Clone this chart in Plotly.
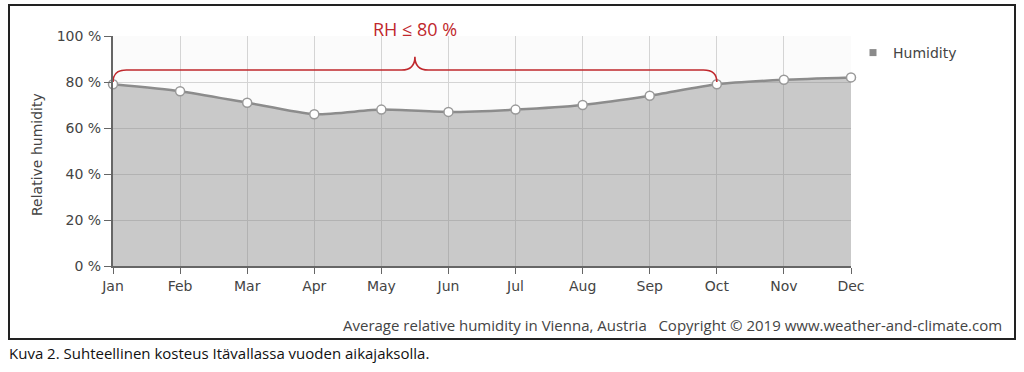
import plotly.graph_objects as go

months = ["Jan", "Feb", "Mar", "Apr", "May", "Jun", "Jul", "Aug", "Sep", "Oct", "Nov", "Dec"]
humidity = [79, 76, 71, 66, 68, 67, 68, 70, 74, 79, 81, 82]
y_ticks = [0, 20, 40, 60, 80, 100]
y_tick_labels = ["0 %", "20 %", "40 %", "60 %", "80 %", "100 %"]

# bracket annotation: months range with RH <= 80 %
bracket_start = 0      # Jan
bracket_end = 9        # Oct
bracket_level = 80
bracket_text = "RH ≤ 80 %"

title_text = "Average relative humidity in Vienna, Austria   Copyright © 2019 www.weather-and-climate.com"
caption_text = "Kuva 2. Suhteellinen kosteus Itävallassa vuoden aikajaksolla."

W, H = 1024, 372
L, R, T, B = 113, 173, 36, 106
pw, ph = W - L - R, H - T - B

def px_x(p):
    return (p - L) / pw

def px_y(p):
    return (H - B - p) / ph

xs = list(range(len(months)))

fig = go.Figure()
fig.add_trace(go.Scatter(
    x=xs, y=humidity, mode="lines+markers",
    line=dict(color="#8c8c8c", width=2.5, shape="spline", smoothing=0.6),
    marker=dict(size=9, color="white", line=dict(color="#999", width=1.5)),
    fill="tozeroy", fillcolor="rgba(135,135,135,0.43)",
    showlegend=False, cliponaxis=False, hoverinfo="skip",
))
fig.add_trace(go.Scatter(
    x=[None], y=[None], mode="markers", name="Humidity",
    marker=dict(symbol="square", size=7, color="#8a8a8a"),
))

axis_font = dict(family="DejaVu Sans", size=14, color="#444")
fig.update_xaxes(
    range=[0, len(months) - 1], tickvals=xs, ticktext=months,
    showgrid=True, gridcolor="#d4d4d4", gridwidth=1,
    showline=True, linecolor="#666", linewidth=2,
    ticks="outside", ticklen=6, tickcolor="#666", tickwidth=1,
    tickfont=axis_font, zeroline=False, fixedrange=True,
)
fig.update_yaxes(
    range=[0, 100], tickvals=y_ticks, ticktext=y_tick_labels,
    showgrid=True, gridcolor="#d4d4d4", gridwidth=1,
    showline=True, linecolor="#666", linewidth=2,
    ticks="outside", ticklen=7, tickcolor="#666", tickwidth=1,
    tickfont=axis_font, zeroline=False, fixedrange=True,
)

# bracket path in data coordinates
lvl = bracket_level
top = 85.2
tip = 91
mid = (bracket_start + bracket_end) / 2
r = 0.2
path = (
    f"M {bracket_start},{lvl} Q {bracket_start},{top} {bracket_start + r},{top} "
    f"L {mid - r},{top} Q {mid},{top} {mid},{tip} "
    f"Q {mid},{top} {mid + r},{top} "
    f"L {bracket_end - r},{top} Q {bracket_end},{top} {bracket_end},{lvl}"
)
fig.add_shape(type="path", path=path, xref="x", yref="y",
              line=dict(color="#c0282d", width=1.6), layer="above")

fig.add_annotation(x=mid, y=px_y(29), xref="x", yref="paper", text=bracket_text,
                   showarrow=False, font=dict(family="Open Sans", size=18, color="#c0282d"),
                   xanchor="center", yanchor="middle")

# outer border
fig.add_shape(type="rect", xref="paper", yref="paper",
              x0=px_x(9), x1=px_x(1015), y0=px_y(339), y1=px_y(5),
              line=dict(color="#222", width=2), fillcolor="rgba(0,0,0,0)", layer="below")

fig.add_annotation(x=px_x(1004), y=px_y(325), xref="paper", yref="paper", text=title_text,
                   showarrow=False, xanchor="right", yanchor="middle",
                   font=dict(family="Open Sans", size=15, color="#444"))
fig.add_annotation(x=px_x(7), y=px_y(353), xref="paper", yref="paper", text=caption_text,
                   showarrow=False, xanchor="left", yanchor="middle",
                   font=dict(family="Open Sans", size=15, color="#111"))
fig.add_annotation(x=px_x(37), y=px_y(155), xref="paper", yref="paper", text="Relative humidity",
                   showarrow=False, textangle=-90, xanchor="center", yanchor="middle",
                   font=dict(family="DejaVu Sans", size=14, color="#444"))

fig.update_layout(
    width=W, height=H,
    margin=dict(l=L, r=R, t=T, b=B, pad=0),
    paper_bgcolor="white", plot_bgcolor="#fbfbfb",
    legend=dict(x=px_x(853), y=px_y(37), xanchor="left", yanchor="top",
                font=dict(family="DejaVu Sans", size=14, color="#444"),
                bgcolor="rgba(0,0,0,0)", itemwidth=30),
    hovermode=False,
)

fig.write_html("out.html")
